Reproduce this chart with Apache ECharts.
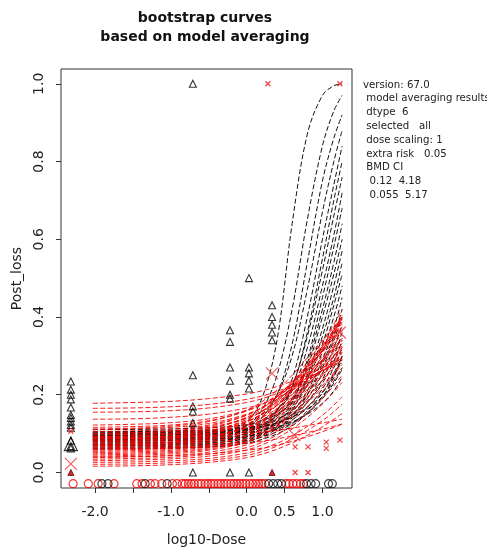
<!DOCTYPE html>
<html>
<head>
<meta charset="utf-8">
<script src="https://cdn.jsdelivr.net/npm/echarts@6/dist/echarts.min.js"></script>
<style>
  html, body { margin: 0; padding: 0; background: #fff; }
  #chart { width: 487px; height: 552px; }
</style>
</head>
<body>
<div id="chart"></div>
<script>
'use strict';
// bootstrap curves from model averaging, log10 dose vs Post_loss

const FONT = "'DejaVu Sans', sans-serif";

// dose grid the red bootstrap curves are read at
const XS_RED = [-2.03, -1.5, -1.0, -0.5, 0.0, 0.3, 0.6, 0.9, 1.1, 1.26];
// dose grid the black (steep) curves are read at, denser where they climb
const XS_BLACK = [-2.03, -1.0, -0.3, 0.0, 0.2, 0.4, 0.6, 0.8, 1.0, 1.15, 1.26];

// red bootstrap curves (one row per curve, values at XS_RED)
const RED_CURVES = [
  [0.178, 0.180, 0.183, 0.190, 0.202, 0.215, 0.235, 0.260, 0.278, 0.292],
  [0.165, 0.166, 0.169, 0.175, 0.188, 0.202, 0.224, 0.252, 0.272, 0.288],
  [0.155, 0.156, 0.159, 0.166, 0.180, 0.196, 0.220, 0.252, 0.275, 0.294],
  [0.137, 0.138, 0.142, 0.150, 0.166, 0.184, 0.212, 0.248, 0.274, 0.296],
  [0.122, 0.124, 0.128, 0.138, 0.160, 0.185, 0.222, 0.272, 0.310, 0.345],
  [0.116, 0.118, 0.122, 0.133, 0.158, 0.186, 0.230, 0.290, 0.335, 0.375],
  [0.110, 0.112, 0.116, 0.126, 0.150, 0.176, 0.216, 0.270, 0.310, 0.345],
  [0.105, 0.107, 0.111, 0.122, 0.148, 0.180, 0.228, 0.295, 0.345, 0.390],
  [0.100, 0.102, 0.106, 0.116, 0.140, 0.168, 0.210, 0.266, 0.306, 0.340],
  [0.096, 0.098, 0.102, 0.113, 0.139, 0.170, 0.220, 0.290, 0.345, 0.395],
  [0.092, 0.094, 0.098, 0.108, 0.132, 0.160, 0.202, 0.258, 0.298, 0.332],
  [0.088, 0.090, 0.094, 0.105, 0.130, 0.162, 0.214, 0.288, 0.345, 0.400],
  [0.085, 0.087, 0.091, 0.101, 0.124, 0.152, 0.194, 0.250, 0.290, 0.325],
  [0.082, 0.084, 0.088, 0.099, 0.125, 0.158, 0.210, 0.282, 0.336, 0.385],
  [0.078, 0.080, 0.084, 0.094, 0.117, 0.145, 0.188, 0.245, 0.286, 0.322],
  [0.075, 0.077, 0.081, 0.091, 0.114, 0.142, 0.185, 0.244, 0.288, 0.328],
  [0.072, 0.074, 0.078, 0.089, 0.115, 0.148, 0.200, 0.272, 0.326, 0.375],
  [0.069, 0.071, 0.075, 0.085, 0.107, 0.134, 0.176, 0.234, 0.278, 0.316],
  [0.066, 0.068, 0.072, 0.083, 0.108, 0.140, 0.192, 0.264, 0.318, 0.366],
  [0.063, 0.065, 0.069, 0.079, 0.101, 0.128, 0.170, 0.228, 0.272, 0.310],
  [0.060, 0.062, 0.066, 0.077, 0.102, 0.134, 0.186, 0.258, 0.312, 0.360],
  [0.057, 0.059, 0.063, 0.072, 0.094, 0.120, 0.160, 0.216, 0.258, 0.296],
  [0.054, 0.056, 0.060, 0.070, 0.094, 0.125, 0.176, 0.246, 0.298, 0.345],
  [0.051, 0.053, 0.057, 0.066, 0.086, 0.111, 0.150, 0.204, 0.245, 0.282],
  [0.048, 0.050, 0.054, 0.063, 0.085, 0.113, 0.160, 0.226, 0.276, 0.322],
  [0.045, 0.047, 0.051, 0.060, 0.080, 0.105, 0.144, 0.198, 0.240, 0.278],
  [0.042, 0.044, 0.048, 0.057, 0.078, 0.105, 0.150, 0.214, 0.262, 0.308],
  [0.038, 0.040, 0.044, 0.052, 0.071, 0.095, 0.134, 0.188, 0.230, 0.268],
  [0.034, 0.036, 0.039, 0.047, 0.064, 0.086, 0.122, 0.172, 0.212, 0.250],
  [0.030, 0.032, 0.035, 0.042, 0.058, 0.079, 0.112, 0.158, 0.196, 0.232],
  [0.026, 0.027, 0.030, 0.036, 0.050, 0.067, 0.094, 0.132, 0.164, 0.195],
  [0.021, 0.022, 0.025, 0.031, 0.044, 0.060, 0.086, 0.120, 0.148, 0.176],
  [0.016, 0.017, 0.020, 0.026, 0.038, 0.053, 0.076, 0.106, 0.130, 0.152],
  [0.040, 0.041, 0.043, 0.048, 0.057, 0.066, 0.080, 0.098, 0.112, 0.124],
  [0.060, 0.061, 0.063, 0.067, 0.075, 0.083, 0.094, 0.107, 0.116, 0.125],
  [0.090, 0.090, 0.091, 0.094, 0.100, 0.106, 0.114, 0.124, 0.131, 0.137],
  [0.092, 0.094, 0.099, 0.112, 0.142, 0.178, 0.235, 0.310, 0.365, 0.420],
  [0.080, 0.082, 0.087, 0.100, 0.130, 0.166, 0.222, 0.298, 0.352, 0.405],
  [0.070, 0.072, 0.077, 0.090, 0.120, 0.156, 0.212, 0.288, 0.340, 0.392],
  [0.100, 0.102, 0.107, 0.119, 0.147, 0.180, 0.232, 0.300, 0.350, 0.398],
  [0.112, 0.114, 0.119, 0.131, 0.160, 0.196, 0.250, 0.318, 0.362, 0.400],
  [0.086, 0.088, 0.093, 0.106, 0.136, 0.172, 0.228, 0.302, 0.354, 0.402]
];

// black bootstrap curves (values at XS_BLACK)
const BLACK_CURVES = [
  [0.095, 0.097, 0.105, 0.130, 0.190, 0.340, 0.640, 0.870, 0.970, 0.995, 1.000],
  [0.090, 0.092, 0.100, 0.120, 0.160, 0.250, 0.420, 0.650, 0.840, 0.930, 0.970],
  [0.085, 0.087, 0.095, 0.110, 0.140, 0.200, 0.330, 0.540, 0.750, 0.860, 0.920],
  [0.100, 0.102, 0.108, 0.120, 0.150, 0.200, 0.300, 0.470, 0.670, 0.800, 0.880],
  [0.080, 0.082, 0.088, 0.100, 0.120, 0.160, 0.240, 0.400, 0.600, 0.740, 0.840],
  [0.095, 0.097, 0.102, 0.110, 0.130, 0.160, 0.220, 0.360, 0.550, 0.700, 0.800],
  [0.075, 0.077, 0.083, 0.095, 0.115, 0.150, 0.220, 0.350, 0.520, 0.660, 0.760],
  [0.105, 0.107, 0.112, 0.120, 0.135, 0.160, 0.210, 0.320, 0.480, 0.610, 0.720],
  [0.088, 0.090, 0.095, 0.105, 0.120, 0.145, 0.190, 0.290, 0.450, 0.580, 0.680],
  [0.070, 0.072, 0.078, 0.090, 0.105, 0.130, 0.180, 0.280, 0.420, 0.540, 0.640],
  [0.098, 0.100, 0.105, 0.112, 0.125, 0.145, 0.185, 0.270, 0.400, 0.510, 0.600],
  [0.082, 0.084, 0.089, 0.098, 0.110, 0.130, 0.170, 0.250, 0.370, 0.480, 0.570],
  [0.065, 0.067, 0.073, 0.083, 0.097, 0.120, 0.160, 0.240, 0.350, 0.450, 0.540],
  [0.110, 0.112, 0.117, 0.123, 0.133, 0.150, 0.180, 0.240, 0.330, 0.430, 0.510],
  [0.092, 0.094, 0.099, 0.107, 0.118, 0.135, 0.165, 0.225, 0.310, 0.400, 0.480],
  [0.076, 0.078, 0.083, 0.092, 0.105, 0.125, 0.155, 0.210, 0.290, 0.370, 0.450],
  [0.060, 0.062, 0.068, 0.078, 0.092, 0.112, 0.145, 0.200, 0.280, 0.350, 0.420],
  [0.102, 0.104, 0.108, 0.114, 0.123, 0.137, 0.160, 0.200, 0.270, 0.340, 0.400],
  [0.086, 0.088, 0.092, 0.099, 0.109, 0.124, 0.148, 0.190, 0.255, 0.320, 0.380],
  [0.072, 0.074, 0.079, 0.087, 0.098, 0.114, 0.140, 0.180, 0.240, 0.300, 0.360],
  [0.096, 0.098, 0.102, 0.108, 0.116, 0.128, 0.148, 0.180, 0.230, 0.285, 0.340],
  [0.080, 0.082, 0.086, 0.092, 0.101, 0.114, 0.135, 0.168, 0.215, 0.270, 0.320],
  [0.068, 0.070, 0.074, 0.081, 0.091, 0.105, 0.126, 0.158, 0.205, 0.255, 0.300],
  [0.100, 0.102, 0.105, 0.110, 0.117, 0.127, 0.143, 0.168, 0.205, 0.250, 0.290],
  [0.062, 0.064, 0.068, 0.075, 0.085, 0.099, 0.120, 0.152, 0.195, 0.245, 0.300],
  [0.104, 0.106, 0.109, 0.113, 0.119, 0.128, 0.142, 0.163, 0.195, 0.235, 0.270],
  [0.094, 0.096, 0.099, 0.103, 0.109, 0.117, 0.130, 0.150, 0.178, 0.210, 0.245],
  [0.084, 0.086, 0.089, 0.094, 0.101, 0.111, 0.127, 0.152, 0.190, 0.230, 0.265]
];

// observed points: open black triangles [log10 dose, value]
const OBS_TRI = [
  [-2.32, 0.234], [-2.32, 0.213], [-2.32, 0.200], [-2.32, 0.188], [-2.32, 0.167],
  [-2.32, 0.148], [-2.32, 0.140], [-2.32, 0.131], [-2.32, 0.122], [-2.32, 0.115],
  [-2.32, 0.082], [-2.32, 0.068], [-2.32, 0.062],
  [-0.71, 1.000], [-0.71, 0.250], [-0.71, 0.170], [-0.71, 0.157], [-0.71, 0.127], [-0.71, 0.000],
  [-0.22, 0.366], [-0.22, 0.336], [-0.22, 0.270], [-0.22, 0.236], [-0.22, 0.200], [-0.22, 0.190], [-0.22, 0.000],
  [0.03, 0.500], [0.03, 0.270], [0.03, 0.255], [0.03, 0.236], [0.03, 0.216], [0.03, 0.000],
  [0.335, 0.430], [0.335, 0.400], [0.335, 0.380], [0.335, 0.360], [0.335, 0.340]
];
// group-mean style large triangle
const BIG_TRI = [[-2.32, 0.073]];
// small filled red triangles
const RED_TRI = [[-2.32, 0.000], [0.335, 0.000]];
// small red crosses
const RED_X = [
  [-2.32, 0.106], [0.28, 1.000], [1.23, 1.000],
  [0.64, 0.066], [0.64, 0.000], [0.81, 0.066], [0.81, 0.000],
  [1.05, 0.078], [1.05, 0.062], [1.23, 0.083]
];
// large red crosses
const BIG_X = [[-2.32, 0.022], [0.335, 0.255], [0.63, 0.096], [1.23, 0.360]];

// circles along the bottom
const BOTTOM_Y = -0.029;
const CIRC_RED = [
  -2.29, -2.09, -1.96, -1.75, -1.45, -1.38, -1.27, -1.21, -1.12, -0.98, -0.92, -0.85,
  -0.81, -0.77, -0.73, -0.69, -0.64, -0.60, -0.55, -0.51, -0.47, -0.43, -0.38, -0.34,
  -0.30, -0.26, -0.21, -0.17, -0.13, -0.09, -0.05, -0.01, 0.04, 0.08, 0.12, 0.16,
  0.20, 0.24, 0.52, 0.56, 0.61, 0.66, 0.71, 0.75
];
const CIRC_BLACK = [-1.91, -1.83, -1.34, -1.05, 0.29, 0.35, 0.41, 0.46, 0.79, 0.85, 0.91, 1.08, 1.13];

const X_TICKS = [-2.0, -1.5, -1.0, -0.5, 0.0, 0.5, 1.0];
const X_LABELS = [-2.0, -1.0, 0.0, 0.5, 1.0];
const Y_TICKS = [0.0, 0.2, 0.4, 0.6, 0.8, 1.0];

const INFO_LINES = [
  'version: 67.0',
  ' model averaging results',
  ' dtype  6',
  ' selected   all',
  ' dose scaling: 1',
  ' extra risk   0.05',
  ' BMD CI',
  '  0.12  4.18',
  '  0.055  5.17'
];

function curveSeries(xs, row, color) {
  return {
    type: 'line', silent: true, symbol: 'none', smooth: 0.35,
    data: xs.map((x, i) => [x, row[i]]),
    lineStyle: { color, width: 1, type: [5, 2.5] }
  };
}

function pts(arr, extra) {
  return Object.assign({ type: 'scatter', silent: true, data: arr, z: 5 }, extra);
}

const CROSS = 'path://M0,0L10,10M10,0L0,10';
const series = [];
BLACK_CURVES.forEach(r => series.push(curveSeries(XS_BLACK, r, '#111')));
RED_CURVES.forEach(r => series.push(curveSeries(XS_RED, r, 'rgba(245,0,0,0.9)')));
series.push(pts(CIRC_RED.map(x => [x, BOTTOM_Y]), { symbol: 'circle', symbolSize: 8, itemStyle: { color: 'rgba(0,0,0,0)', borderColor: '#e00', borderWidth: 1.2 } }));
series.push(pts(CIRC_BLACK.map(x => [x, BOTTOM_Y]), { symbol: 'circle', symbolSize: 8, itemStyle: { color: 'rgba(0,0,0,0)', borderColor: '#111', borderWidth: 1.2 } }));
series.push(pts(OBS_TRI, { symbol: 'triangle', symbolSize: 7, itemStyle: { color: 'rgba(0,0,0,0)', borderColor: '#000', borderWidth: 1.1 } }));
series.push(pts(BIG_TRI, { symbol: 'triangle', symbolSize: 13, itemStyle: { color: 'rgba(0,0,0,0)', borderColor: '#000', borderWidth: 1.2 } }));
series.push(pts(RED_TRI, { symbol: 'triangle', symbolSize: 6, itemStyle: { color: '#b00', borderColor: '#600', borderWidth: 1 } }));
series.push(pts(RED_X, { symbol: CROSS, symbolSize: 5, itemStyle: { color: 'none', borderColor: '#e11', borderWidth: 1.2 } }));
series.push(pts(BIG_X, { symbol: CROSS, symbolSize: 12, itemStyle: { color: 'none', borderColor: '#e33', borderWidth: 1.2 } }));

const chart = echarts.init(document.getElementById('chart'), null, { renderer: 'canvas' });
chart.setOption({
  animation: false,
  backgroundColor: '#fff',
  textStyle: { fontFamily: FONT },
  grid: { left: 61, right: 135, top: 69, bottom: 60, show: true, borderColor: '#333', borderWidth: 1 },
  xAxis: {
    type: 'value', min: -2.45, max: 1.39,
    name: 'log10-Dose', nameLocation: 'middle', nameGap: 45,
    nameTextStyle: { fontFamily: FONT, fontSize: 14, color: '#222' },
    axisLine: { show: false, onZero: false }, splitLine: { show: false },
    axisTick: { show: true, length: 5, customValues: X_TICKS, lineStyle: { color: '#333' } },
    axisLabel: { customValues: X_LABELS, formatter: v => v.toFixed(1), fontFamily: FONT, fontSize: 14, color: '#222', margin: 17 }
  },
  yAxis: {
    type: 'value', min: -0.04, max: 1.038,
    name: 'Post_loss', nameLocation: 'middle', nameGap: 36, nameRotate: 90,
    nameTextStyle: { fontFamily: FONT, fontSize: 14, color: '#222' },
    axisLine: { show: false, onZero: false }, splitLine: { show: false },
    axisTick: { show: true, length: 5, customValues: Y_TICKS, lineStyle: { color: '#333' } },
    axisLabel: { customValues: Y_TICKS, rotate: 90, formatter: v => v.toFixed(1), fontFamily: FONT, fontSize: 14, color: '#222', margin: 15 }
  },
  graphic: [
    { type: 'text', style: { x: 205, y: 18, text: 'bootstrap curves', align: 'center', verticalAlign: 'middle', font: "bold 14px 'DejaVu Sans'", fill: '#111' } },
    { type: 'text', style: { x: 205, y: 37, text: 'based on model averaging', align: 'center', verticalAlign: 'middle', font: "bold 14px 'DejaVu Sans'", fill: '#111' } }
  ].concat(INFO_LINES.map((s, i) => ({
    type: 'text', style: { x: 363, y: 85 + i * 13.8, text: s, verticalAlign: 'middle', font: "10.2px 'DejaVu Sans'", fill: '#222' }
  }))),
  series
});
</script>
</body>
</html>
